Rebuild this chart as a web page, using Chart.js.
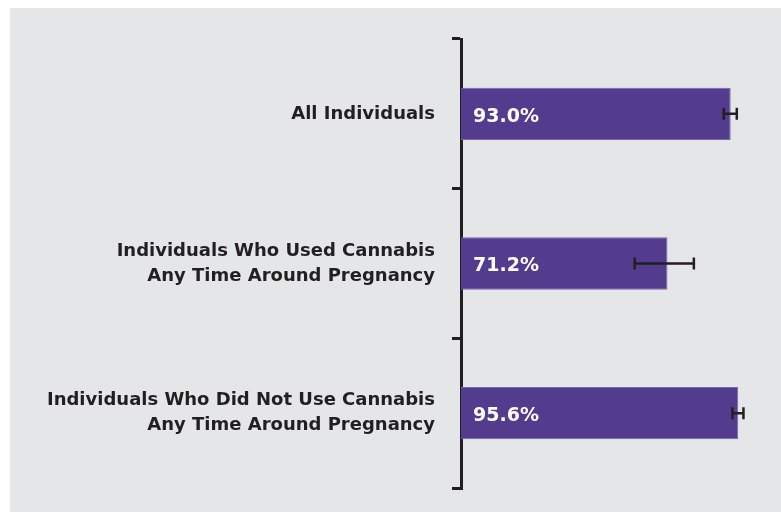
<!DOCTYPE html>
<html>
<head>
<meta charset="utf-8">
<script src="https://cdn.jsdelivr.net/npm/chart.js@4"></script>
<style>
  body { margin: 0; background: #ffffff; }
  #wrap { position: absolute; left: 10px; top: 8px; width: 771px; height: 504px; background: #e5e6e8; }
</style>
</head>
<body>
<div id="wrap"><canvas id="chart" width="771" height="504"></canvas></div>
<script>
// categories (multi-line labels) and values, in percent
var categories = [
  ["All Individuals"],
  ["Individuals Who Used Cannabis", "Any Time Around Pregnancy"],
  ["Individuals Who Did Not Use Cannabis", "Any Time Around Pregnancy"]
];
var percentages = [93.0, 71.2, 95.6];
var lowerBounds = [90.6, 59.9, 93.6];
var upperBounds = [95.1, 80.3, 97.4];

var ink = "#231f20";
var purple = "#533b8e";

// draws confidence interval whiskers over each bar
var errorBarPlugin = {
  id: "errorBars",
  afterDatasetsDraw: function(chart) {
    var ctx = chart.ctx;
    var xs = chart.scales.x;
    var meta = chart.getDatasetMeta(0);
    ctx.save();
    ctx.strokeStyle = ink;
    ctx.lineWidth = 2.5;
    meta.data.forEach(function(bar, i) {
      var y = bar.y;
      var x1 = xs.getPixelForValue(lowerBounds[i]);
      var x2 = xs.getPixelForValue(upperBounds[i]);
      ctx.beginPath();
      ctx.moveTo(x1, y); ctx.lineTo(x2, y);
      ctx.moveTo(x1, y - 6); ctx.lineTo(x1, y + 6);
      ctx.moveTo(x2, y - 6); ctx.lineTo(x2, y + 6);
      ctx.stroke();
    });
    ctx.restore();
  }
};

// white value labels inside the bars
var valueLabelPlugin = {
  id: "valueLabels",
  afterDatasetsDraw: function(chart) {
    var ctx = chart.ctx;
    var meta = chart.getDatasetMeta(0);
    ctx.save();
    ctx.fillStyle = "#ffffff";
    ctx.font = "bold 19px 'DejaVu Sans', sans-serif";
    ctx.textAlign = "left";
    ctx.textBaseline = "middle";
    meta.data.forEach(function(bar, i) {
      ctx.fillText(percentages[i].toFixed(1) + "%", bar.base + 12, bar.y + 3);
    });
    ctx.restore();
  }
};

new Chart(document.getElementById("chart"), {
  type: "bar",
  data: {
    labels: categories,
    datasets: [{
      data: percentages,
      backgroundColor: purple,
      borderColor: "#7a66ad",
      borderWidth: 1,
      barPercentage: 0.35,
      categoryPercentage: 1.0
    }]
  },
  options: {
    indexAxis: "y",
    responsive: false,
    animation: false,
    layout: { padding: { top: 31, right: 30, bottom: 24, left: 0 } },
    plugins: { legend: { display: false }, tooltip: { enabled: false } },
    scales: {
      x: {
        min: 0,
        max: 100,
        display: false
      },
      y: {
        afterFit: function(scale) {
          scale.width = 451;
          scale.paddingTop = 0;
          scale.paddingBottom = 0;
        },
        grid: {
          drawOnChartArea: false,
          drawTicks: true,
          tickLength: 9,
          color: ink,
          lineWidth: 3,
          offset: true
        },
        border: { display: true, color: ink, width: 3 },
        ticks: {
          color: ink,
          padding: 17,
          font: { family: "DejaVu Sans", size: 18, weight: "bold", lineHeight: 1.4 }
        }
      }
    }
  },
  plugins: [errorBarPlugin, valueLabelPlugin]
});
</script>
</body>
</html>
